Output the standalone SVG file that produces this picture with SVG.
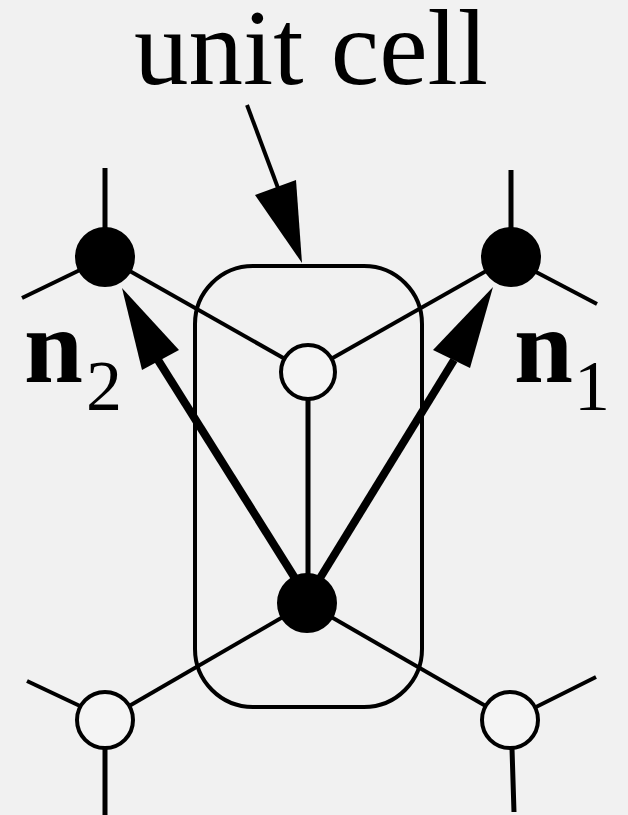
<svg xmlns="http://www.w3.org/2000/svg" width="628" height="815" viewBox="0 0 628 815">
<style>
.bg{fill:#f1f1f1}
.thin{stroke:#000;stroke-width:4;fill:none;stroke-linecap:butt}
.vert{stroke:#000;stroke-width:5;fill:none}
.thick{stroke:#000;stroke-width:8;fill:none}
.black{fill:#000;stroke:#000;stroke-width:2}
.white{fill:#f4f4f4;stroke:#000;stroke-width:4}
.head{fill:#000;stroke:none}
</style>
<rect class="bg" x="0" y="0" width="628" height="815"/>
<g id="unit-cell-label">
<text x="134" y="84" font-family="'Times New Roman', 'Liberation Serif', serif" font-size="109" fill="#000">unit cell</text>
</g>
<g id="unit-cell">
<rect x="195" y="266" width="227" height="441" rx="58" ry="58" class="thin"/>
</g>
<g id="connectors">
<line class="vert" x1="105" y1="168" x2="105" y2="230"/>
<line class="thin" x1="22" y1="298" x2="80" y2="270"/>
<line class="vert" x1="511" y1="170" x2="511" y2="230"/>
<line class="thin" x1="597" y1="304" x2="536" y2="272"/>
<line class="thin" x1="105" y1="257" x2="308" y2="372"/>
<line class="thin" x1="511" y1="257" x2="308" y2="372"/>
<line class="vert" x1="308" y1="398" x2="308" y2="580"/>
<line class="thin" x1="307" y1="603" x2="105" y2="720"/>
<line class="thin" x1="307" y1="603" x2="510" y2="720"/>
<line class="thin" x1="27" y1="681" x2="80" y2="706"/>
<line class="vert" x1="105" y1="748" x2="105" y2="815"/>
<line class="thin" x1="596" y1="677" x2="536" y2="707"/>
<line class="vert" x1="512" y1="748" x2="514" y2="812"/>
<line class="thin" x1="247" y1="105" x2="278" y2="188"/>
<polygon class="head" points="255,195 296,180 302,263"/>
<line class="thick" x1="298" y1="583" x2="158" y2="360"/>
<polygon class="head" points="122,288 142,370 179,350"/>
<line class="thick" x1="317" y1="583" x2="454" y2="360"/>
<polygon class="head" points="493,287 433,350 470,368"/>
</g>
<g id="node-top-left"><circle class="black" cx="105" cy="257" r="29"/></g>
<g id="node-top-right"><circle class="black" cx="511" cy="257" r="29"/></g>
<g id="node-center"><circle class="white" cx="308" cy="372" r="27"/></g>
<g id="node-bottom"><circle class="black" cx="307" cy="603" r="29"/></g>
<g id="node-bottom-left"><circle class="white" cx="105" cy="720" r="28"/></g>
<g id="node-bottom-right"><circle class="white" cx="510" cy="720" r="28"/></g>
<g id="label-n2">
<text x="24" y="382" font-family="'Times New Roman', 'Liberation Serif', serif" font-size="106" font-weight="bold" fill="#000">n</text>
<text x="86" y="410" font-family="'Times New Roman', 'Liberation Serif', serif" font-size="72" fill="#000">2</text>
</g>
<g id="label-n1">
<text x="514" y="382" font-family="'Times New Roman', 'Liberation Serif', serif" font-size="106" font-weight="bold" fill="#000">n</text>
<text x="574" y="410" font-family="'Times New Roman', 'Liberation Serif', serif" font-size="72" fill="#000">1</text>
</g>
</svg>
